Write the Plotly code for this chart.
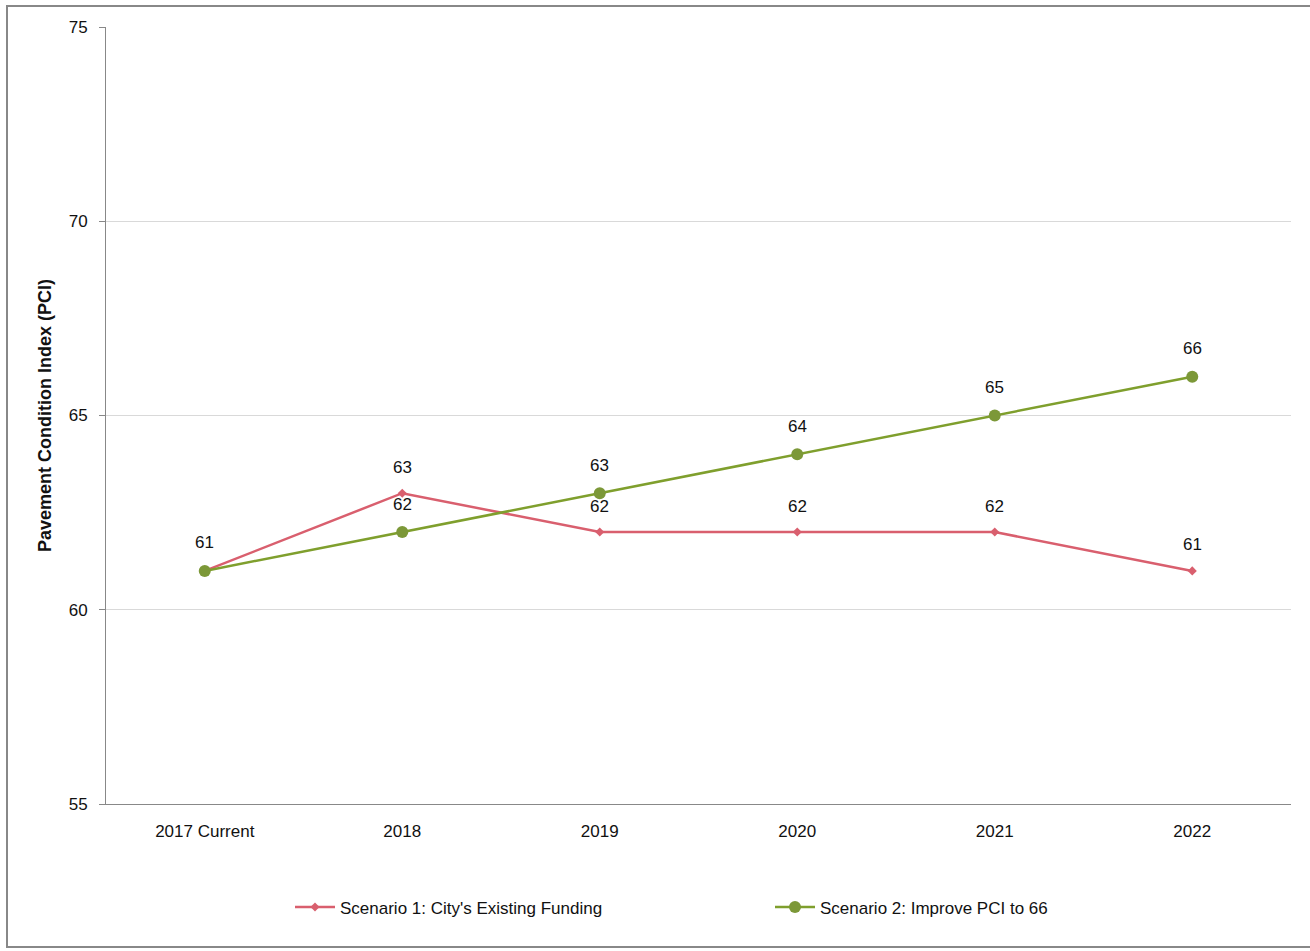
import plotly.graph_objects as go

# Pavement Condition Index projections by scenario
years = ["2017 Current", "2018", "2019", "2020", "2021", "2022"]
scenario1 = [61, 63, 62, 62, 62, 61]
scenario2 = [61, 62, 63, 64, 65, 66]
scenario1_name = "Scenario 1: City's Existing Funding"
scenario2_name = "Scenario 2: Improve PCI to 66"
y_ticks = [55, 60, 65, 70, 75]

PINK = "#D95F6E"
GREEN = "#7F9F2D"
FONT = "Liberation Sans"

fig = go.Figure()

fig.add_trace(go.Scatter(
    x=years, y=scenario1, name=scenario1_name,
    mode="lines+markers",
    line=dict(color=PINK, width=2.5),
    marker=dict(symbol="diamond", size=7, color=PINK),
    cliponaxis=False,
))
fig.add_trace(go.Scatter(
    x=years, y=scenario2, name=scenario2_name,
    mode="lines+markers",
    line=dict(color=GREEN, width=2.5),
    marker=dict(symbol="circle", size=12, color="#7C9838"),
    cliponaxis=False,
))

# value labels above each point (category index as x); the shared
# first point is labelled once
labels = []
for i, v in enumerate(scenario1):
    if i == 0:
        continue
    labels.append(dict(x=i, y=v, text=str(v), yshift=26))
for i, v in enumerate(scenario2):
    labels.append(dict(x=i, y=v, text=str(v), yshift=28))
annotations = [
    dict(xref="x", yref="y", showarrow=False,
         font=dict(family=FONT, size=17, color="#111111"), **a)
    for a in labels
]

fig.update_layout(
    width=1310, height=951,
    paper_bgcolor="white", plot_bgcolor="white",
    margin=dict(l=106, r=19, t=27, b=147, autoexpand=False),
    font=dict(family=FONT, size=16, color="#111111"),
    showlegend=True,
    annotations=annotations,
    legend=dict(
        orientation="h", x=(290 - 106) / 1185, xanchor="left",
        y=-0.11, yanchor="top",
        font=dict(family=FONT, size=17, color="#111111"),
        itemwidth=40, entrywidth=425, traceorder="normal",
    ),
    xaxis=dict(
        type="category", range=[-0.5, 5.5],
        showline=True, linecolor="#888888", linewidth=1,
        showgrid=False, ticks="", tickfont=dict(size=17),
        ticklabelstandoff=12,
        fixedrange=True,
    ),
    yaxis=dict(
        range=[55, 75], tickvals=y_ticks,
        showline=True, linecolor="#888888", linewidth=1,
        showgrid=True, gridcolor="#D9D9D9", gridwidth=1,
        ticks="outside", ticklen=6, tickcolor="#888888",
        tickfont=dict(size=17), zeroline=False,
        ticklabelstandoff=8,
        title=dict(text="<b>Pavement Condition Index (PCI)</b>",
                   font=dict(size=18), standoff=12),
    ),
    shapes=[dict(
        type="rect", xref="paper", yref="paper",
        x0=-99 / 1185, x1=1.03, y0=-143 / 777, y1=1 + 21 / 777,
        line=dict(color="#888888", width=2), fillcolor="rgba(0,0,0,0)",
        layer="below",
    )],
)

fig.write_html("out.html")
